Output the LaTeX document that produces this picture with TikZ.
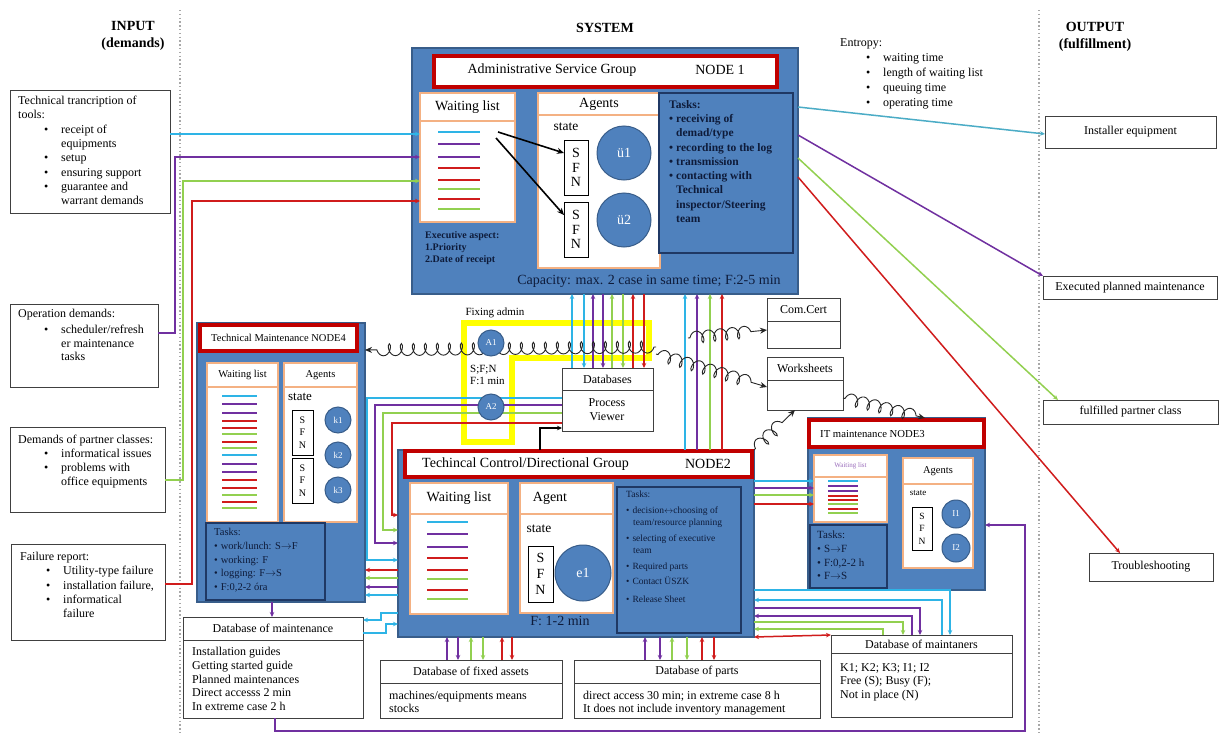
\documentclass[tikz,border=0pt]{standalone}
\usepackage{fontspec}
\setmainfont{Liberation Serif}
\usetikzlibrary{arrows.meta,decorations.pathmorphing}
\definecolor{nblue}{HTML}{4F81BD}
\definecolor{nbord}{HTML}{385D8A}
\definecolor{navyb}{HTML}{1F3864}
\definecolor{navyt}{HTML}{0E1B3A}
\definecolor{tred}{HTML}{C00000}
\definecolor{orng}{HTML}{F4B183}
\definecolor{cyn}{HTML}{2EB4E6}
\definecolor{prp}{HTML}{7030A0}
\definecolor{grn}{HTML}{92D050}
\definecolor{rd}{HTML}{D01C1C}
\definecolor{tealc}{HTML}{4BACC6}
\definecolor{ylw}{HTML}{FFFF00}
\definecolor{dotc}{HTML}{A8A8A8}
\newcommand\fsz[2]{\fontsize{#1}{#2}\selectfont}
\newcommand\bli{\hspace*{26pt}\makebox[17pt][l]{\textbullet}}
\newcommand\blc{\hspace*{43pt}}
\newcommand\tbul{\textbullet\hspace{3pt}}
\newcommand\mkbox[6][]{\node[#1,anchor=north west,inner sep=0pt,outer sep=0pt,minimum width=#5pt,minimum height=#6pt] (#2) at (#3,#4) {};}
\begin{document}
\begin{tikzpicture}[x=1pt,y=-1pt,
  wbox/.style={draw=black!75,line width=1,fill=white},
  nodebox/.style={draw=nbord,line width=1.5,fill=nblue},
  titlebox/.style={draw=tred,line width=4,fill=white},
  orbox/.style={draw=orng,line width=2,fill=white},
  taskbox/.style={draw=navyb,line width=1.3,fill=nblue},
  sfnbox/.style={draw=black,line width=0.9,fill=white},
  agent/.style={circle,draw=nbord,line width=1,fill=nblue,text=white,inner sep=0pt},
  ar/.style={-{Stealth[length=5pt,width=4.5pt]},line width=1.5},
  wl/.style={line width=2},
  txt/.style={inner sep=0pt,align=left,anchor=north west},
  coilst/.style={decorate,decoration={coil,amplitude=6pt,segment length=12pt,aspect=0.6,pre length=2pt,post length=7pt},draw=black!85,line width=0.9,-{Stealth[length=7pt,width=6pt]}}
]
\useasboundingbox (0,0) rectangle (1219,736);
\fill[white] (0,0) rectangle (1219,736);

% separators
\draw[dotc,line width=1.3,dash pattern=on 1.3pt off 2.5pt] (180,10) -- (180,736);
\draw[dotc,line width=1.3,dash pattern=on 1.3pt off 2.5pt] (1039,10) -- (1039,736);

% headers
\node[font=\bfseries\fsz{14}{16.5},align=center] (hin) at (133,36) {INPUT\\(demands)};
\node[font=\bfseries\fsz{14}{16.5}] (hsys) at (605,28) {SYSTEM};
\node[font=\bfseries\fsz{14}{16.5},align=center] (hout) at (1095,37) {OUTPUT\\(fulfillment)};

% input boxes
\mkbox[wbox]{in1}{10}{90}{160}{123}
\node[txt,font=\fsz{12}{14.3}] (in1t) at (18,96) {Technical trancription of\\tools:\\\bli receipt of\\\blc equipments\\\bli setup\\\bli ensuring support\\\bli guarantee and\\\blc warrant demands};
\mkbox[wbox]{in2}{10}{304}{148}{83}
\node[txt,font=\fsz{12}{13.3}] (in2t) at (18,309) {Operation demands:\\[3pt]\bli scheduler/refresh\\\blc er maintenance\\\blc tasks};
\mkbox[wbox]{in3}{10}{427}{155}{85}
\node[txt,font=\fsz{12}{14}] (in3t) at (18,435) {Demands of partner classes:\\\bli informatical issues\\\bli problems with\\\blc office equipments};
\mkbox[wbox]{in4}{11}{544}{154}{96}
\node[txt,font=\fsz{12}{14.3}] (in4t) at (20,552) {Failure report:\\\bli Utility-type failure\\\bli installation failure,\\\bli informatical\\\blc failure};

% entropy
\node[txt,font=\fsz{12}{15.2}] (ent) at (840,38) {Entropy:\\\bli waiting time\\\bli length of waiting list\\\bli queuing time\\\bli operating time};

% output boxes
\mkbox[wbox]{o1}{1045}{116}{171}{32}
\node[font=\fsz{12}{14}] (o1t) at (o1) {Installer equipment};
\mkbox[wbox]{o2}{1043}{276}{174}{23}
\node[font=\fsz{12}{14}] (o2t) at (o2) {Executed planned maintenance};
\mkbox[wbox]{o3}{1043}{400}{175}{24}
\node[font=\fsz{12}{14}] (o3t) at (o3) {fulfilled partner class};
\mkbox[wbox]{o4}{1089}{553}{124}{28}
\node[font=\fsz{12}{14}] (o4t) at (o4) {Troubleshooting};

% ================= NODE 1
\mkbox[nodebox]{n1}{412}{48}{386}{246}
\mkbox[titlebox]{n1t}{434}{56}{343}{31}
\node[font=\fsz{14}{16}] (n1tt) at (552,70) {Administrative Service Group};
\node[font=\fsz{14}{16}] (n1tn) at (720,70) {NODE 1};
\mkbox[orbox]{n1wh}{420}{93}{95}{28}
\mkbox[orbox]{n1wb}{420}{121}{95}{101}
\node[font=\fsz{14}{16}] (n1wt) at (n1wh) {Waiting list};
\foreach \yy/\cc in {132/cyn,144/prp,157/prp,168/rd,180/rd,189/grn,199/rd,209/grn} \draw[\cc,wl] (438,\yy) -- (480,\yy);
\node[txt,font=\bfseries\fsz{10}{12},text=navyt] (n1ex) at (425,231) {Executive aspect:\\1.Priority\\2.Date of receipt};
\mkbox[orbox]{n1ah}{538}{93}{122}{22}
\mkbox[orbox]{n1ab}{538}{115}{122}{153}
\node[font=\fsz{14}{16}] (n1at) at (n1ah) {Agents};
\node[font=\fsz{13.5}{15}] (n1st) at (566,127) {state};
\mkbox[sfnbox]{n1s1}{564}{140}{24}{55}
\node[font=\fsz{14}{14.5},align=center,inner sep=0pt] (n1s1t) at (n1s1) {S\\F\\N};
\mkbox[sfnbox]{n1s2}{564}{202}{24}{55}
\node[font=\fsz{14}{14.5},align=center,inner sep=0pt] (n1s2t) at (n1s2) {S\\F\\N};
\node[agent,minimum size=54pt,font=\fsz{14}{14}] (u1) at (624,153) {ü1};
\node[agent,minimum size=54pt,font=\fsz{14}{14}] (u2) at (624,220) {ü2};
\coordinate (wa) at (498,132);
\coordinate (wb) at (496,138);
\draw[-{Stealth[length=7pt,width=6pt]},line width=1.6] (wa) -- (n1s1.west |- 0,153);
\draw[-{Stealth[length=7pt,width=6pt]},line width=1.6] (wb) -- (n1s2.west |- 0,215);
\mkbox[taskbox]{n1tk}{659}{93}{134}{160}
\node[txt,font=\bfseries\fsz{11.5}{14.3},text=navyt] (n1tkt) at (669,100) {Tasks:\\\tbul receiving of\\\hspace*{7pt}demad/type\\\tbul recording to the log\\\tbul transmission\\\tbul contacting with\\\hspace*{7pt}Technical\\\hspace*{7pt}inspector/Steering\\\hspace*{7pt}team};
\node[font=\fsz{14}{16},text=navyt] (n1cap) at (649,281) {Capacity: max. 2 case in same time; F:2-5 min};

% ================= NODE 4
\mkbox[nodebox]{n4}{197}{323}{168}{279}
\mkbox[titlebox]{n4t}{200}{325}{157}{26}
\node[font=\fsz{10.5}{12}] (n4tt) at (n4t) {Technical Maintenance NODE4};
\mkbox[orbox]{n4wh}{207}{363}{71}{24}
\mkbox[orbox]{n4wb}{207}{387}{71}{135}
\node[font=\fsz{10.5}{12}] (n4wt) at (n4wh) {Waiting list};
\foreach \yy/\cc in {396/cyn,404/prp,413/prp,421/rd,428/rd,434/grn,442/rd,448/grn,455/cyn,464/prp,472/prp,480/rd,488/rd,495/grn,502/rd,508/grn} \draw[\cc,wl] (222,\yy) -- (257,\yy);
\mkbox[orbox]{n4ah}{284}{363}{73}{24}
\mkbox[orbox]{n4ab}{284}{387}{73}{135}
\node[font=\fsz{10.5}{12}] (n4at) at (n4ah) {Agents};
\node[font=\fsz{13}{14}] (n4st) at (300,397) {state};
\mkbox[sfnbox]{n4s1}{292}{410}{21}{45}
\node[font=\fsz{10}{12.5},align=center,inner sep=0pt] (n4s1t) at (n4s1) {S\\F\\N};
\mkbox[sfnbox]{n4s2}{292}{458}{21}{45}
\node[font=\fsz{10}{12.5},align=center,inner sep=0pt] (n4s2t) at (n4s2) {S\\F\\N};
\node[agent,minimum size=26pt,font=\fsz{9}{10}] (k1) at (338,420) {k1};
\node[agent,minimum size=26pt,font=\fsz{9}{10}] (k2) at (338,455) {k2};
\node[agent,minimum size=26pt,font=\fsz{9}{10}] (k3) at (338,490) {k3};
\mkbox[taskbox]{n4tk}{206}{523}{119}{77}
\node[txt,font=\fsz{10.5}{13.8},text=navyt] (n4tkt) at (214,528) {Tasks:\\\tbul work/lunch: S$\rightarrow$F\\\tbul working: F\\\tbul logging: F$\rightarrow$S\\\tbul F:0,2-2 óra};

% ================= NODE 2
\mkbox[nodebox]{n2}{398}{450}{356}{187}
\mkbox[titlebox]{n2t}{405}{451}{347}{26}
\node[anchor=west,font=\fsz{14}{16},inner sep=0pt] (n2tt) at (422,464) {Techincal Control/Directional Group};
\node[font=\fsz{14}{16}] (n2tn) at (708,464) {NODE2};
\mkbox[orbox]{n2wh}{410}{483}{98}{31}
\mkbox[orbox]{n2wb}{410}{514}{98}{100}
\node[font=\fsz{14}{16}] (n2wt) at (n2wh) {Waiting list};
\foreach \yy/\cc in {522/cyn,534/prp,547/prp,558/rd,570/rd,579/grn,590/rd,599/grn} \draw[\cc,wl] (427,\yy) -- (468,\yy);
\mkbox[orbox]{n2ah}{520}{483}{93}{31}
\mkbox[orbox]{n2ab}{520}{514}{93}{99}
\node[font=\fsz{14}{16}] (n2at) at (550,498) {Agent};
\node[font=\fsz{13.5}{15}] (n2st) at (539,529) {state};
\mkbox[sfnbox]{n2s}{528}{546}{25}{56}
\node[font=\fsz{14}{16},align=center,inner sep=0pt] (n2sft) at (n2s) {S\\F\\N};
\node[agent,minimum size=56pt,font=\fsz{14}{14}] (e1) at (583,573) {e1};
\mkbox[taskbox]{n2tk}{617}{487}{124}{146}
\node[txt,font=\fsz{9.5}{12},text=navyt] (n2tkt) at (626,491) {Tasks:\\[4pt]\tbul decision$\leftrightarrow$choosing of\\\hspace*{7pt}team/resource planning\\[4pt]\tbul selecting of executive\\\hspace*{7pt}team\\[4pt]\tbul Required parts\\[3pt]\tbul Contact ÜSZK\\[6pt]\tbul Release Sheet};
\node[font=\fsz{14}{16},text=navyt] (n2f) at (560,621) {F: 1-2 min};

% ================= NODE 3
\mkbox[nodebox]{n3}{808}{418}{177}{172}
\mkbox[titlebox]{n3t}{809}{420}{175}{27}
\node[anchor=west,font=\fsz{10.7}{12},inner sep=0pt] (n3tt) at (820,434) {IT maintenance NODE3};
\mkbox[orbox]{n3wh}{814}{455}{73}{22}
\mkbox[orbox]{n3wb}{814}{477}{73}{45}
\node[font=\fsz{7}{8},text=prp!70] (n3wt) at (n3wh) {Waiting list};
\foreach \yy/\cc in {481/cyn,486/prp,491/prp,496/rd,500/rd,504/grn,509/rd,513/grn} \draw[\cc,line width=1.7] (828,\yy) -- (858,\yy);
\mkbox[taskbox]{n3tk}{810}{525}{77}{63}
\node[txt,font=\fsz{11}{13.7},text=navyt] (n3tkt) at (817,531) {Tasks:\\\tbul S$\rightarrow$F\\\tbul F:0,2-2 h\\\tbul F$\rightarrow$S};
\mkbox[orbox]{n3ah}{903}{458}{70}{26}
\mkbox[orbox]{n3ab}{903}{484}{70}{84}
\node[font=\fsz{10.5}{12}] (n3at) at (n3ah) {Agents};
\node[font=\fsz{9}{10}] (n3st) at (918,493) {state};
\mkbox[sfnbox]{n3s}{912}{507}{20}{43}
\node[font=\fsz{9.5}{12.5},align=center,inner sep=0pt] (n3sft) at (n3s) {S\\F\\N};
\node[agent,minimum size=28pt,font=\fsz{9}{10}] (i1) at (956,514) {I1};
\node[agent,minimum size=28pt,font=\fsz{9}{10}] (i2) at (956,548) {I2};

% ================= middle boxes
\node[font=\fsz{11}{12}] (fix) at (495,313) {Fixing admin};
\draw[ylw,line width=6] (464,323) -- (649,323) -- (649,358) -- (512,358) -- (512,442) -- (464,442) -- cycle;
\mkbox[wbox]{dbh}{562}{368}{91}{22}
\mkbox[wbox]{dbb}{562}{390}{91}{41}
\node[font=\fsz{12}{14}] (dbht) at (dbh) {Databases};
\node[font=\fsz{12}{14},align=center] (dbbt) at (607,410) {Process\\Viewer};
\mkbox[wbox]{cch}{767}{298}{73}{23}
\mkbox[wbox]{ccb}{767}{321}{73}{27}
\node[font=\fsz{12}{14}] (ccht) at (cch) {Com.Cert};
\mkbox[wbox]{wsh}{767}{357}{76}{23}
\mkbox[wbox]{wsb}{767}{380}{76}{30}
\node[font=\fsz{12}{14}] (wsht) at (wsh) {Worksheets};

% ================= bottom databases
\mkbox[wbox]{dmh}{183}{617}{180}{23}
\mkbox[wbox]{dmb}{183}{640}{180}{78}
\node[font=\fsz{12}{14}] (dmht) at (dmh) {Database of maintenance};
\node[txt,font=\fsz{12}{13.75}] (dmbt) at (192,647) {Installation guides\\Getting started guide\\Planned maintenances\\Direct accesss 2 min\\In extreme case 2 h};
\mkbox[wbox]{dfh}{380}{660}{182}{23}
\mkbox[wbox]{dfb}{380}{683}{182}{35}
\node[font=\fsz{12}{14}] (dfht) at (dfh) {Database of fixed assets};
\node[txt,font=\fsz{12}{13}] (dfbt) at (389,691) {machines/equipments means\\stocks};
\mkbox[wbox]{dph}{574}{660}{246}{23}
\mkbox[wbox]{dpb}{574}{683}{246}{35}
\node[font=\fsz{12}{14}] (dpht) at (dph) {Database of parts};
\node[txt,font=\fsz{12}{13}] (dpbt) at (583,691) {direct access 30 min; in extreme case 8 h\\It does not include inventory management};
\mkbox[wbox]{dth}{831}{635}{181}{18}
\mkbox[wbox]{dtb}{831}{653}{181}{64}
\node[font=\fsz{12}{14}] (dtht) at (dth) {Database of maintaners};
\node[txt,font=\fsz{12}{13.5}] (dtbt) at (840,663) {K1; K2; K3; I1; I2\\Free (S); Busy (F);\\Not in place (N)};

% ================= connectors
% inputs into node 1
\draw[ar,cyn] (in1.east |- 0,134) -- (n1wb.west |- 0,134);
\draw[ar,prp] (in2.east |- 0,333) -| (175,157) -- (n1wb.west |- 0,157);
\draw[ar,grn] (in3.east |- 0,480) -| (183,181) -- (n1wb.west |- 0,181);
\draw[ar,rd] (in4.east |- 0,584) -| (192,201) -- (n1wb.west |- 0,201);
% node 1 to outputs
\draw[ar,tealc] (n1.east |- 0,107) -- (o1.west |- 0,134);
\draw[ar,prp] (n1.east |- 0,135) -- (o2.north west);
\draw[ar,grn] (n1.east |- 0,158) -- (o3.north west -| 1058,0);
\draw[ar,rd] (n1.east |- 0,177) -- (o4.north west -| 1120,0);
% node 1 <-> databases
\foreach \xx/\cc in {572/cyn,593/prp,612/grn,633/rd} \draw[ar,\cc] (dbh.north -| \xx,0) -- (n1.south -| \xx,0);
\foreach \xx/\cc in {584/cyn,603/prp,623/grn,644/rd} \draw[ar,\cc] (n1.south -| \xx,0) -- (dbh.north -| \xx,0);
% node 2 -> node 1
\foreach \xx/\cc in {685/cyn,697/prp,710/grn,722/rd} \draw[ar,\cc] (n2.north -| \xx,0) -- (n1.south -| \xx,0);
% databases -> node 2
\draw[ar,cyn] (dbb.west |- 0,398) -| (367,560) -- (n2.west |- 0,560);
\draw[ar,prp] (dbb.west |- 0,405) -| (375,543) -- (n2.west |- 0,543);
\draw[ar,grn] (dbb.west |- 0,413) -| (383,530) -- (n2.west |- 0,530);
\draw[ar,rd] (dbb.west |- 0,423) -| (392,515) -- (n2.west |- 0,515);
\draw[ar,black,line width=1.2] (n2.north -| 540,0) |- (dbb.west |- 0,428);
% node 2 -> node 4
\foreach \yy/\cc in {570/rd,578/grn,587/prp,595/cyn} \draw[ar,\cc] (n2.west |- 0,\yy) -- (n4.east |- 0,\yy);
% node 2 -> node 3
\foreach \yy/\cc in {481/cyn,488/prp,495/grn,504/rd} \draw[ar,\cc] (n2.east |- 0,\yy) -- (n3wb.west |- 0,\yy);
% node 2 <-> database of maintenance
\draw[ar,cyn] (n2.west |- 0,613) -| (381,620) -- (dmh.east |- 0,620);
\draw[ar,cyn] (dmh.east |- 0,633) -| (386,624) -- (n2.west |- 0,624);
\draw[ar,prp] (n4.south -| 272,0) -- (dmh.north -| 272,0);
% node 2 <-> fixed assets, parts
\foreach \xx/\cc in {447/prp,471/grn,502/rd} \draw[ar,\cc] (dfh.north -| \xx,0) -- (n2.south -| \xx,0);
\foreach \xx/\cc in {458/prp,483/grn,512/rd} \draw[ar,\cc] (n2.south -| \xx,0) -- (dfh.north -| \xx,0);
\foreach \xx/\cc in {645/prp,672/grn,702/rd} \draw[ar,\cc] (dph.north -| \xx,0) -- (n2.south -| \xx,0);
\foreach \xx/\cc in {660/prp,687/grn,714/rd} \draw[ar,\cc] (n2.south -| \xx,0) -- (dph.north -| \xx,0);
% node 2 <-> maintainers
\draw[ar,cyn] (n2.east |- 0,590) -| (dth.north -| 950,0);
\draw[ar,cyn] (dth.north -| 942,0) |- (n2.east |- 0,600);
\draw[ar,prp] (n2.east |- 0,608) -| (dth.north -| 920,0);
\draw[ar,prp] (dth.north -| 912,0) |- (n2.east |- 0,616);
\draw[ar,grn] (n2.east |- 0,622) -| (dth.north -| 903,0);
\draw[ar,grn] (dth.north -| 883,0) |- (n2.east |- 0,629);
\draw[{Stealth[length=5pt,width=4.5pt]}-{Stealth[length=5pt,width=4.5pt]},line width=1.5,rd] (n2.south east) -- (dth.north west);
% big purple loop
\draw[ar,prp] (dmb.south -| 275,0) |- (1025,731) |- (n3.east |- 0,525);
% coils
\coordinate (cA) at (656,347);
\coordinate (cB) at (656,354);
\coordinate (cC) at (688,338);
\draw[coilst] (cA) -- (n4.east |- 0,350);
\draw[coilst] (cB) -- (wsb.west |- 0,387);
\draw[coilst] (cC) -- (ccb.west |- 0,330);
\draw[coilst] (n2.north east) -- (wsb.south west -| 795,0);
\draw[coilst] (wsb.east |- 0,398) -- (n3.north -| 925,0);

% fixing admin agents
\node[agent,minimum size=26pt,font=\fsz{9}{10}] (a1) at (491,343) {A1};
\node[agent,minimum size=26pt,font=\fsz{9}{10}] (a2) at (491,407) {A2};
\node[txt,font=\fsz{11}{12}] (a12t) at (470,365) {S;F;N\\F:1 min};
\end{tikzpicture}
\end{document}
